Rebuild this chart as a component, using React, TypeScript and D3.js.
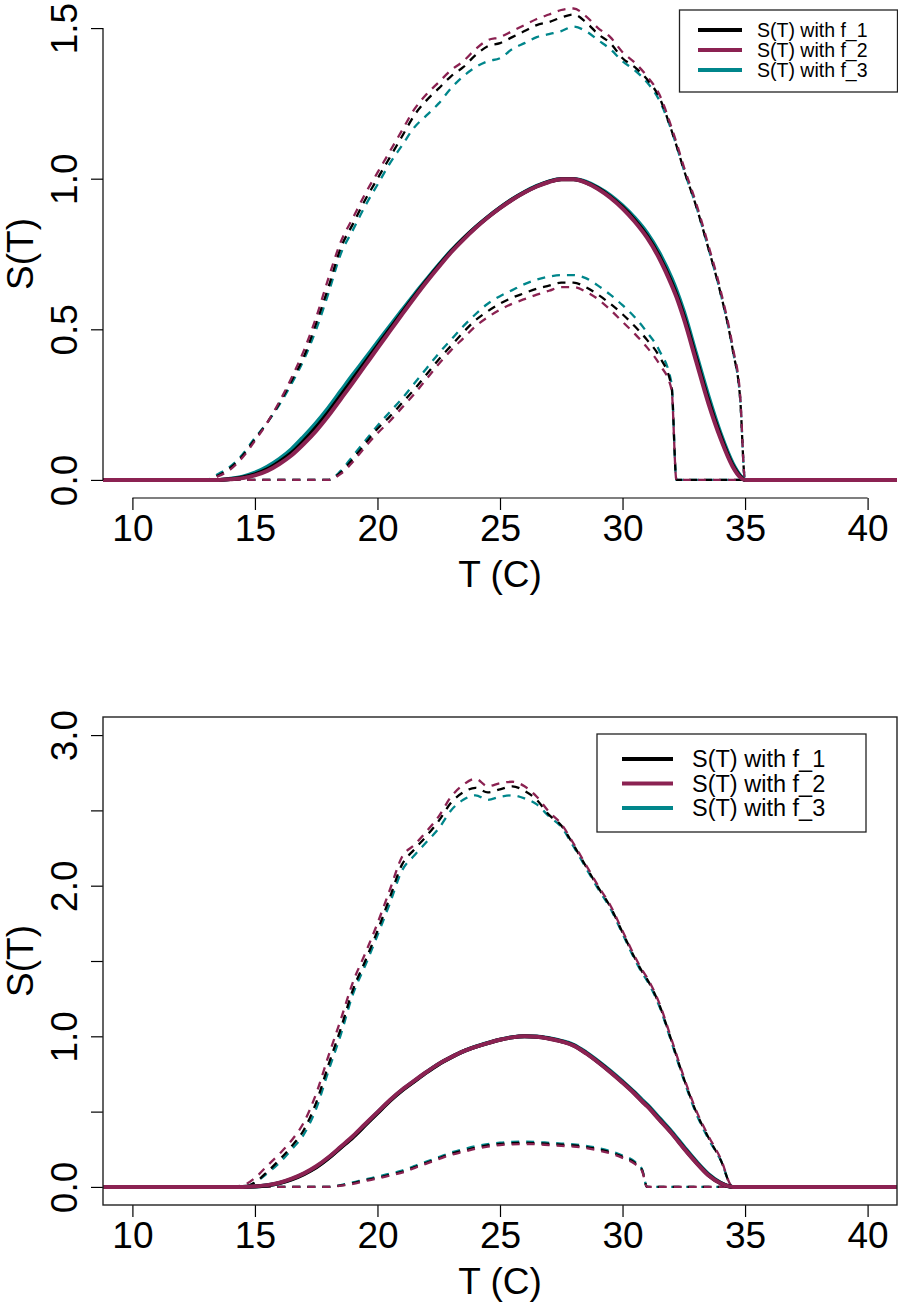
import React, { useEffect, useRef } from "react";
import * as d3 from "d3";

// temperature grids (deg C) for each panel
const tempTop = [0, 13, 13.5, 14, 14.5, 15, 15.5, 16, 16.5, 17, 17.5, 18, 18.5, 19, 19.5, 20, 20.5, 21, 21.5, 22, 22.5, 23, 23.5, 24, 24.5, 25, 25.5, 26, 26.5, 27, 27.5, 28, 28.5, 29, 29.5, 30, 30.5, 31, 31.5, 32, 32.2, 32.5, 33, 33.5, 34, 34.5, 34.8, 35, 50];
const tempBottom = [0, 14, 14.5, 15, 15.5, 16, 16.5, 17, 17.5, 18, 18.5, 19, 19.5, 20, 20.5, 21, 21.5, 22, 22.5, 23, 23.5, 24, 24.5, 25, 25.5, 26, 26.5, 27, 27.5, 28, 28.5, 29, 29.5, 30, 30.5, 30.8, 31, 31.5, 32, 32.5, 33, 33.5, 34, 34.5, 50];

// top panel: mean, upper and lower bands
const topMeanF1 = [0, 0, 0, 0.003, 0.008, 0.018, 0.035, 0.06, 0.09, 0.13, 0.175, 0.225, 0.28, 0.335, 0.39, 0.445, 0.5, 0.555, 0.609, 0.661, 0.711, 0.758, 0.8, 0.838, 0.872, 0.903, 0.931, 0.955, 0.975, 0.99, 0.998, 0.998, 0.988, 0.968, 0.94, 0.905, 0.862, 0.81, 0.742, 0.655, 0.615, 0.545, 0.405, 0.265, 0.145, 0.048, 0.012, 0, 0];
const topMeanF2 = [0, 0, 0, 0.002, 0.006, 0.015, 0.03, 0.053, 0.082, 0.12, 0.163, 0.213, 0.268, 0.323, 0.38, 0.437, 0.493, 0.549, 0.604, 0.657, 0.707, 0.755, 0.797, 0.836, 0.871, 0.902, 0.93, 0.954, 0.974, 0.989, 0.998, 0.998, 0.987, 0.966, 0.937, 0.901, 0.857, 0.804, 0.735, 0.647, 0.607, 0.535, 0.395, 0.255, 0.137, 0.043, 0.009, 0, 0];
const topMeanF3 = [0, 0, 0, 0.004, 0.011, 0.024, 0.044, 0.07, 0.103, 0.145, 0.19, 0.24, 0.295, 0.35, 0.403, 0.457, 0.51, 0.563, 0.615, 0.665, 0.714, 0.76, 0.801, 0.839, 0.873, 0.904, 0.932, 0.956, 0.976, 0.991, 0.999, 0.999, 0.99, 0.971, 0.945, 0.911, 0.87, 0.82, 0.754, 0.67, 0.63, 0.56, 0.42, 0.28, 0.155, 0.055, 0.015, 0, 0];

const topUpperF1 = [0, 0, 0.015, 0.04, 0.08, 0.135, 0.19, 0.255, 0.33, 0.41, 0.52, 0.64, 0.77, 0.85, 0.93, 1.0, 1.07, 1.14, 1.21, 1.26, 1.3, 1.34, 1.37, 1.41, 1.44, 1.45, 1.47, 1.49, 1.51, 1.52, 1.535, 1.545, 1.52, 1.48, 1.45, 1.4, 1.37, 1.33, 1.27, 1.16, 1.11, 1.03, 0.91, 0.77, 0.62, 0.43, 0.27, 0, 0];
const topUpperF2 = [0, 0, 0.012, 0.035, 0.075, 0.13, 0.19, 0.26, 0.34, 0.43, 0.54, 0.67, 0.79, 0.87, 0.95, 1.02, 1.09, 1.16, 1.23, 1.28, 1.32, 1.36, 1.39, 1.43, 1.46, 1.47, 1.49, 1.51, 1.53, 1.545, 1.56, 1.565, 1.54, 1.5, 1.47, 1.42, 1.385, 1.34, 1.28, 1.17, 1.12, 1.04, 0.92, 0.78, 0.63, 0.44, 0.28, 0, 0];
const topUpperF3 = [0, 0, 0.02, 0.045, 0.085, 0.14, 0.19, 0.25, 0.32, 0.4, 0.5, 0.62, 0.75, 0.83, 0.91, 0.98, 1.05, 1.11, 1.17, 1.21, 1.25, 1.3, 1.34, 1.37, 1.39, 1.4, 1.43, 1.45, 1.47, 1.48, 1.49, 1.505, 1.49, 1.46, 1.43, 1.39, 1.36, 1.32, 1.26, 1.16, 1.11, 1.03, 0.91, 0.77, 0.62, 0.43, 0.27, 0, 0];

const topLowerF1 = [0, 0, 0, 0, 0, 0, 0, 0, 0, 0, 0, 0, 0.025, 0.07, 0.12, 0.17, 0.21, 0.255, 0.3, 0.35, 0.4, 0.445, 0.49, 0.53, 0.56, 0.585, 0.605, 0.62, 0.635, 0.645, 0.655, 0.655, 0.64, 0.615, 0.585, 0.55, 0.51, 0.465, 0.41, 0.31, 0, 0, 0, 0, 0, 0, 0, 0, 0];
const topLowerF2 = [0, 0, 0, 0, 0, 0, 0, 0, 0, 0, 0, 0, 0.02, 0.06, 0.11, 0.155, 0.195, 0.24, 0.285, 0.335, 0.385, 0.43, 0.47, 0.51, 0.54, 0.565, 0.585, 0.6, 0.615, 0.628, 0.64, 0.64, 0.625, 0.6, 0.565, 0.525, 0.485, 0.44, 0.385, 0.3, 0, 0, 0, 0, 0, 0, 0, 0, 0];
const topLowerF3 = [0, 0, 0, 0, 0, 0, 0, 0, 0, 0, 0, 0, 0.03, 0.08, 0.13, 0.18, 0.225, 0.27, 0.32, 0.37, 0.42, 0.465, 0.51, 0.55, 0.585, 0.61, 0.63, 0.65, 0.665, 0.675, 0.68, 0.68, 0.67, 0.645, 0.615, 0.58, 0.54, 0.49, 0.43, 0.32, 0, 0, 0, 0, 0, 0, 0, 0, 0];

// bottom panel
const botMeanF1 = [0, 0, 0, 0.003, 0.01, 0.025, 0.05, 0.085, 0.13, 0.19, 0.26, 0.33, 0.41, 0.49, 0.57, 0.64, 0.7, 0.76, 0.815, 0.86, 0.9, 0.93, 0.955, 0.977, 0.993, 1.0, 0.997, 0.985, 0.967, 0.94, 0.89, 0.83, 0.765, 0.695, 0.62, 0.57, 0.54, 0.45, 0.36, 0.26, 0.165, 0.08, 0.025, 0, 0];
const botMeanF2 = [0, 0, 0, 0.004, 0.012, 0.028, 0.055, 0.09, 0.137, 0.197, 0.267, 0.338, 0.418, 0.497, 0.576, 0.645, 0.705, 0.763, 0.817, 0.861, 0.9, 0.93, 0.955, 0.977, 0.993, 1.0, 0.997, 0.984, 0.966, 0.938, 0.888, 0.828, 0.762, 0.692, 0.617, 0.567, 0.536, 0.446, 0.356, 0.256, 0.162, 0.078, 0.024, 0, 0];
const botMeanF3 = [0, 0, 0, 0.003, 0.011, 0.026, 0.052, 0.087, 0.133, 0.193, 0.263, 0.334, 0.414, 0.494, 0.573, 0.643, 0.703, 0.762, 0.816, 0.861, 0.9, 0.931, 0.956, 0.978, 0.994, 1.0, 0.998, 0.987, 0.97, 0.944, 0.895, 0.836, 0.771, 0.701, 0.627, 0.578, 0.548, 0.458, 0.368, 0.268, 0.171, 0.086, 0.028, 0, 0];

const botUpperF1 = [0, 0, 0, 0.03, 0.1, 0.18, 0.27, 0.38, 0.56, 0.81, 1.05, 1.31, 1.5, 1.7, 1.92, 2.14, 2.24, 2.33, 2.43, 2.55, 2.62, 2.65, 2.62, 2.64, 2.66, 2.63, 2.57, 2.47, 2.4, 2.27, 2.13, 1.99, 1.86, 1.69, 1.52, 1.43, 1.38, 1.21, 0.97, 0.72, 0.5, 0.33, 0.18, 0, 0];
const botUpperF2 = [0, 0, 0.01, 0.06, 0.14, 0.22, 0.31, 0.43, 0.62, 0.87, 1.11, 1.36, 1.55, 1.75, 1.97, 2.19, 2.27, 2.36, 2.46, 2.59, 2.67, 2.71, 2.66, 2.68, 2.69, 2.66, 2.59, 2.49, 2.41, 2.28, 2.14, 2.0, 1.87, 1.7, 1.53, 1.44, 1.39, 1.22, 0.98, 0.73, 0.51, 0.34, 0.19, 0, 0];
const botUpperF3 = [0, 0, 0, 0.03, 0.09, 0.16, 0.25, 0.35, 0.52, 0.77, 1.01, 1.28, 1.47, 1.67, 1.88, 2.1, 2.2, 2.29, 2.38, 2.5, 2.57, 2.6, 2.57, 2.59, 2.6, 2.58, 2.54, 2.46, 2.39, 2.26, 2.12, 1.98, 1.85, 1.68, 1.51, 1.42, 1.37, 1.2, 0.96, 0.71, 0.49, 0.32, 0.18, 0, 0];

const botLowerF1 = [0, 0, 0, 0, 0, 0, 0, 0, 0, 0, 0.01, 0.025, 0.045, 0.06, 0.08, 0.1, 0.13, 0.16, 0.19, 0.22, 0.24, 0.26, 0.275, 0.285, 0.29, 0.292, 0.29, 0.285, 0.28, 0.275, 0.265, 0.25, 0.23, 0.2, 0.16, 0.11, 0, 0, 0, 0, 0, 0, 0, 0, 0];
const botLowerF2 = [0, 0, 0, 0, 0, 0, 0, 0, 0, 0, 0.008, 0.02, 0.04, 0.055, 0.075, 0.095, 0.125, 0.155, 0.185, 0.213, 0.233, 0.253, 0.268, 0.278, 0.283, 0.285, 0.283, 0.278, 0.273, 0.268, 0.258, 0.243, 0.223, 0.193, 0.153, 0.105, 0, 0, 0, 0, 0, 0, 0, 0, 0];
const botLowerF3 = [0, 0, 0, 0, 0, 0, 0, 0, 0, 0, 0.012, 0.03, 0.05, 0.068, 0.088, 0.108, 0.138, 0.168, 0.198, 0.228, 0.25, 0.27, 0.284, 0.294, 0.299, 0.3, 0.298, 0.293, 0.288, 0.283, 0.273, 0.258, 0.238, 0.208, 0.168, 0.115, 0, 0, 0, 0, 0, 0, 0, 0, 0];

const legendLabels = ["S(T) with f_1", "S(T) with f_2", "S(T) with f_3"];
const seriesColors = ["#000000", "#8B2252", "#00868B"];
const xTicks = [10, 15, 20, 25, 30, 35, 40];
const topYTicks = [0, 0.5, 1, 1.5];
const botYTicks = [0, 0.5, 1, 1.5, 2, 2.5, 3];
const botYLabelled = [0, 1, 2, 3];

const FONT = "'Liberation Sans', Arial, Helvetica, sans-serif";
const LEFT = 103;
const RIGHT = 897;

const drawPanel = (root, p) => {
  const x = d3.scaleLinear().domain([8.8, 41.2]).range([LEFT, RIGHT]);
  const y = d3.scaleLinear().domain(p.yDomain).range([p.bottom, p.top]);
  const g = root.append("g");

  g.append("clipPath")
    .attr("id", p.id)
    .append("rect")
    .attr("x", LEFT)
    .attr("y", p.top - 12)
    .attr("width", RIGHT - LEFT)
    .attr("height", p.bottom - p.top + 12);

  const line = d3
    .line()
    .x((_, i) => x(p.temps[i]))
    .y((v) => y(v))
    .curve(d3.curveMonotoneX);

  const plot = g.append("g").attr("clip-path", `url(#${p.id})`);
  // draw order: f3, f1, f2 (f2 ends up on top)
  const order = [2, 0, 1];
  order.forEach((k) => {
    [p.upper[k], p.lower[k]].forEach((vals) => {
      plot
        .append("path")
        .attr("d", line(vals))
        .attr("fill", "none")
        .attr("stroke", seriesColors[k])
        .attr("stroke-width", 2.3)
        .attr("stroke-dasharray", "8,7");
    });
  });
  order.forEach((k) => {
    plot
      .append("path")
      .attr("d", line(p.mean[k]))
      .attr("fill", "none")
      .attr("stroke", seriesColors[k])
      .attr("stroke-width", 4);
  });

  // x axis
  const gx = g
    .append("g")
    .attr("transform", `translate(0,${p.bottom})`)
    .call(d3.axisBottom(x).tickValues(xTicks).tickSize(12).tickPadding(5).tickFormat(d3.format("d")));
  gx.select(".domain").remove();
  gx.attr("font-size", 37).attr("font-family", FONT).attr("color", "#000");
  gx.selectAll("line").attr("stroke-width", 1.2);

  // y axis, labels turned to read upwards
  const fmt = d3.format(".1f");
  const gy = g
    .append("g")
    .attr("transform", `translate(${LEFT},0)`)
    .call(
      d3
        .axisLeft(y)
        .tickValues(p.yTicks)
        .tickSize(12)
        .tickFormat((v) => (p.yLabelled.includes(v) ? fmt(v) : ""))
    );
  gy.select(".domain").remove();
  gy.attr("font-size", 37).attr("font-family", FONT).attr("color", "#000");
  gy.selectAll("line").attr("stroke-width", 1.2);
  gy.selectAll("text")
    .attr("x", null)
    .attr("dy", null)
    .attr("text-anchor", "middle")
    .attr("transform", "translate(-26,0) rotate(-90)");

  if (p.box) {
    g.append("rect")
      .attr("x", LEFT)
      .attr("y", p.top)
      .attr("width", RIGHT - LEFT)
      .attr("height", p.bottom - p.top)
      .attr("fill", "none")
      .attr("stroke", "#222")
      .attr("stroke-width", 1.4);
  } else {
    g.append("line")
      .attr("x1", x(xTicks[0]))
      .attr("x2", x(xTicks[xTicks.length - 1]))
      .attr("y1", p.bottom)
      .attr("y2", p.bottom)
      .attr("stroke", "#000")
      .attr("stroke-width", 1.2);
    g.append("line")
      .attr("x1", LEFT)
      .attr("x2", LEFT)
      .attr("y1", y(p.yTicks[0]))
      .attr("y2", y(p.yTicks[p.yTicks.length - 1]))
      .attr("stroke", "#000")
      .attr("stroke-width", 1.2);
  }

  // axis titles
  g.append("text")
    .attr("x", (LEFT + RIGHT) / 2)
    .attr("y", p.bottom + 89)
    .attr("text-anchor", "middle")
    .attr("font-size", 37)
    .attr("font-family", FONT)
    .text("T (C)");
  g.append("text")
    .attr("transform", `translate(33,${(p.top + p.bottom) / 2}) rotate(-90)`)
    .attr("text-anchor", "middle")
    .attr("font-size", 37)
    .attr("font-family", FONT)
    .text("S(T)");

  // legend
  const L = p.legend;
  g.append("rect")
    .attr("x", L.x)
    .attr("y", L.y)
    .attr("width", L.w)
    .attr("height", L.h)
    .attr("fill", "#fff")
    .attr("stroke", "#222")
    .attr("stroke-width", 1.3);
  legendLabels.forEach((lab, i) => {
    const ly = L.y0 + i * L.step;
    g.append("line")
      .attr("x1", L.lx1)
      .attr("x2", L.lx2)
      .attr("y1", ly)
      .attr("y2", ly)
      .attr("stroke", seriesColors[i])
      .attr("stroke-width", 4);
    g.append("text")
      .attr("x", L.tx)
      .attr("y", ly + L.fs * 0.36)
      .attr("font-size", L.fs)
      .attr("font-family", FONT)
      .text(lab);
  });
};

const App = () => {
  const ref = useRef(null);

  useEffect(() => {
    const svg = d3.select(ref.current);
    svg.selectAll("*").remove();

    drawPanel(svg, {
      id: "clip-top",
      temps: tempTop,
      mean: [topMeanF1, topMeanF2, topMeanF3],
      upper: [topUpperF1, topUpperF2, topUpperF3],
      lower: [topLowerF1, topLowerF2, topLowerF3],
      yDomain: [-0.06, 1.56],
      top: 10,
      bottom: 498,
      yTicks: topYTicks,
      yLabelled: topYTicks,
      box: false,
      legend: { x: 679.5, y: 10, w: 218, h: 82, y0: 30, step: 20, lx1: 698, lx2: 742, tx: 757, fs: 19.5 },
    });

    drawPanel(svg, {
      id: "clip-bottom",
      temps: tempBottom,
      mean: [botMeanF1, botMeanF2, botMeanF3],
      upper: [botUpperF1, botUpperF2, botUpperF3],
      lower: [botLowerF1, botLowerF2, botLowerF3],
      yDomain: [-0.12, 3.12],
      top: 717,
      bottom: 1205,
      yTicks: botYTicks,
      yLabelled: botYLabelled,
      box: true,
      legend: { x: 597, y: 734, w: 269, h: 98, y0: 759, step: 24.5, lx1: 622, lx2: 673, tx: 692, fs: 23.5 },
    });
  }, []);

  return (
    <svg
      ref={ref}
      width={898}
      height={1303}
      style={{ position: "absolute", left: 0, top: 0, background: "#fff" }}
    />
  );
};

export default App;
